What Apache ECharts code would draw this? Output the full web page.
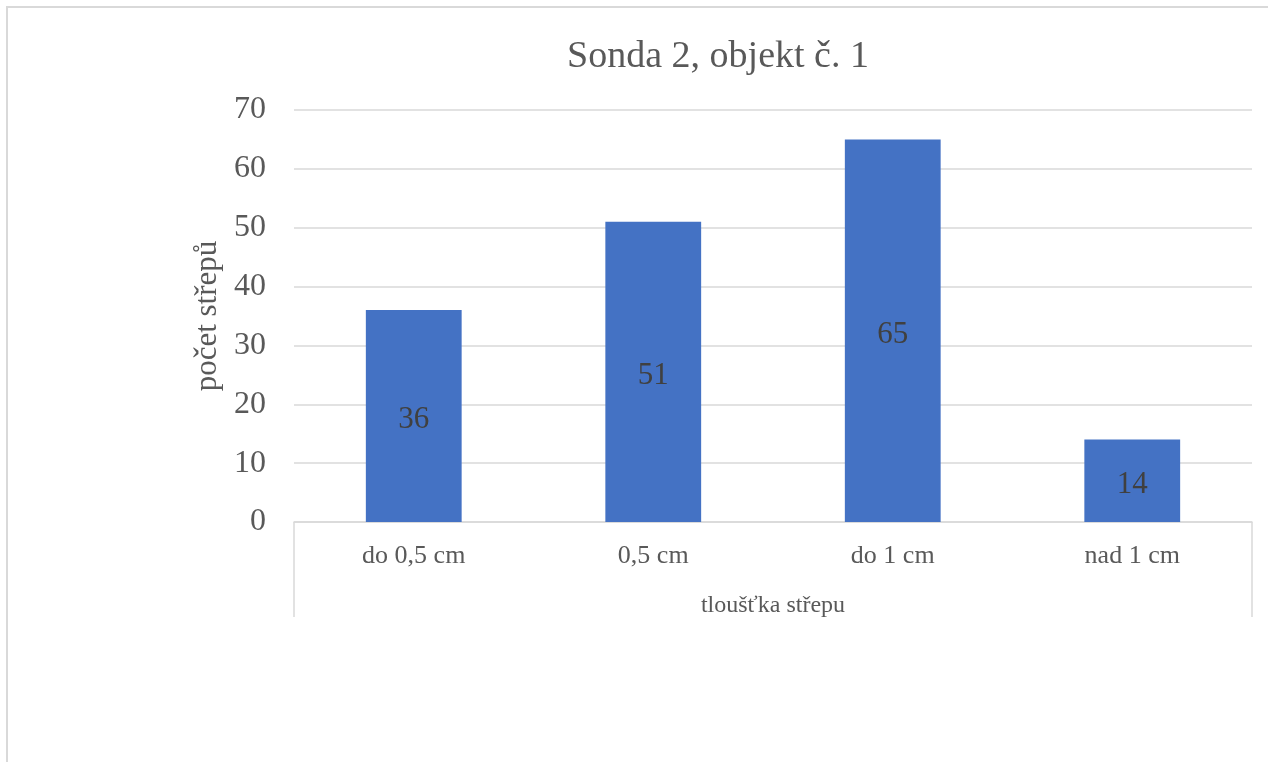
<!DOCTYPE html>
<html>
<head>
<meta charset="utf-8">
<script src="https://cdn.jsdelivr.net/npm/echarts@6/dist/echarts.min.js"></script>
<style>
html,body{margin:0;padding:0;background:#fff;}
#chart{width:1268px;height:762px;}
</style>
</head>
<body>
<div id="chart"></div>
<script>
const titleText = 'Sonda 2, objekt č. 1';
const categories = ['do 0,5 cm', '0,5 cm', 'do 1 cm', 'nad 1 cm'];
const values = [36, 51, 65, 14];
const yAxisName = 'počet střepů';
const xAxisName = 'tloušťka střepu';

const serif = '"Liberation Serif", "Times New Roman", serif';
const chart = echarts.init(document.getElementById('chart'), null, {renderer: 'canvas'});

const option = {
  backgroundColor: '#ffffff',
  animation: false,
  title: {
    text: titleText,
    left: 713,
    top: 33,
    textAlign: 'center',
    textStyle: {fontFamily: serif, fontSize: 38, fontWeight: 'normal', color: '#595959'}
  },
  grid: {left: 294, right: 16, top: 110, bottom: 240, containLabel: false},
  xAxis: {
    type: 'category',
    data: categories,
    name: xAxisName,
    nameLocation: 'middle',
    nameGap: 72,
    nameTextStyle: {fontFamily: serif, fontSize: 24, color: '#595959'},
    axisLine: {show: true, lineStyle: {color: '#D9D9D9', width: 1.5}},
    axisTick: {show: false},
    axisLabel: {fontFamily: serif, fontSize: 26, color: '#595959', margin: 21}
  },
  yAxis: {
    type: 'value',
    min: 0,
    max: 70,
    interval: 10,
    name: yAxisName,
    nameLocation: 'middle',
    nameGap: 67,
    nameRotate: 90,
    nameTextStyle: {fontFamily: serif, fontSize: 31, color: '#595959'},
    axisLine: {show: false},
    axisTick: {show: false},
    splitLine: {lineStyle: {color: '#D9D9D9', width: 1.5}},
    axisLabel: {fontFamily: serif, fontSize: 32, color: '#595959', margin: 28,
      verticalAlign: 'middle', lineHeight: 32, padding: [5, 0, 0, 0]}
  },
  series: [{
    type: 'bar',
    data: values,
    barWidth: '40%',
    itemStyle: {color: '#4472C4'},
    label: {
      show: true,
      position: 'inside',
      offset: [0, 4],
      fontFamily: serif,
      fontSize: 31,
      color: '#404040'
    }
  }]
};
chart.setOption(option);

// decorative frame and category-axis box
const gridRect = chart.getModel().getComponent('grid', 0).coordinateSystem.getRect();
const bx0 = gridRect.x, bx1 = gridRect.x + gridRect.width, by0 = gridRect.y + gridRect.height;
chart.setOption({
  graphic: [
    {type: 'rect', shape: {x: 7, y: 7, width: 1400, height: 900}, style: {fill: 'none', stroke: '#D9D9D9', lineWidth: 2}, silent: true},
    {type: 'line', shape: {x1: bx0, y1: by0, x2: bx0, y2: by0 + 95}, style: {stroke: '#D9D9D9', lineWidth: 1.5}, silent: true},
    {type: 'line', shape: {x1: bx1, y1: by0, x2: bx1, y2: by0 + 95}, style: {stroke: '#D9D9D9', lineWidth: 1.5}, silent: true}
  ]
});
</script>
</body>
</html>
